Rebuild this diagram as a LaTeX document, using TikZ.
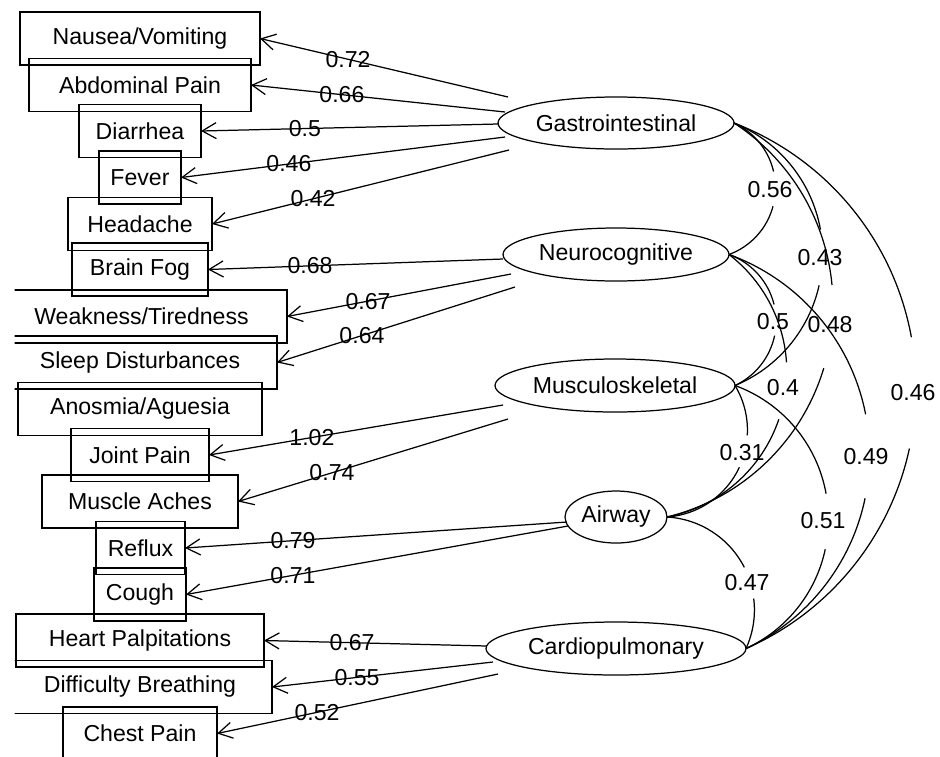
\documentclass[tikz,border=0pt]{standalone}
\usepackage{fontspec}
\setmainfont{Liberation Sans}
\usetikzlibrary{arrows.meta,shapes.geometric}
\newcommand\figfont{\fontsize{11.55}{13.8}\selectfont}
\begin{document}
\begin{tikzpicture}[x=0.5pt,y=-0.5pt,
  lw/.style={line width=0.62pt},
  obs/.style={draw, lw, rectangle, minimum height=26.5pt, inner sep=0pt, outer sep=0pt, font=\figfont},
  lat/.style={draw, lw, ellipse, inner sep=0pt, outer sep=0pt, minimum height=26.5pt, font=\figfont},
  load/.style={lw, -{Straight Barb[length=7pt,width=8pt]}},
  cov/.style={lw},
  lab/.style={inner sep=0pt, font=\figfont}]
\useasboundingbox (0,0) rectangle (940,756);

% observed variables (clipped like the original plot region)
\begin{scope}
\clip (14.5,0) rectangle (940,756);
\node[obs, minimum width=120pt]   (nau) at (140,38.5)  {Nausea/Vomiting};
\node[obs, minimum width=111pt]   (abd) at (140,85)    {Abdominal Pain};
\node[obs, minimum width=61pt]    (dia) at (140,131)   {Diarrhea};
\node[obs, minimum width=41pt]    (fev) at (140,177.5) {Fever};
\node[obs, minimum width=72pt]    (hed) at (140,224)   {Headache};
\node[obs, minimum width=68pt]    (bra) at (140,269.5) {Brain Fog};
\node[obs, minimum width=145.5pt] (wea) at (141.5,316.5) {Weakness/Tiredness};
\node[obs, minimum width=137pt]   (sle) at (140,362.5) {Sleep Disturbances};
\node[obs, minimum width=122pt]   (ano) at (140,409)   {Anosmia/Aguesia};
\node[obs, minimum width=69pt]    (joi) at (140,455)   {Joint Pain};
\node[obs, minimum width=98pt]    (mus) at (140,501.5) {Muscle Aches};
\node[obs, minimum width=44.5pt]  (ref) at (140.5,548) {Reflux};
\node[obs, minimum width=46pt]    (cou) at (140,594.5) {Cough};
\node[obs, minimum width=124pt]   (hrt) at (140,640.5) {Heart Palpitations};
\node[obs, minimum width=132pt]   (dif) at (140,687)   {Difficulty Breathing};
\node[obs, minimum width=77pt]    (che) at (140,733.5) {Chest Pain};
\end{scope}

% latent variables
\node[lat, minimum width=118pt, minimum height=26pt] (gi) at (616,123)   {Gastrointestinal};
\node[lat, minimum width=113pt] (ne) at (616,254.5) {Neurocognitive};
\node[lat, minimum width=120pt] (mu) at (615,385.5) {Musculoskeletal};
\node[lat, minimum width=51pt, minimum height=26pt]  (ai) at (616,517)   {Airway};
\node[lat, minimum width=130pt] (ca) at (616,648.5) {Cardiopulmonary};

% start points of the loading lines
\coordinate (gi1) at (508,97);
\coordinate (gi2) at (505,112);
\coordinate (gi3) at (498,124);
\coordinate (gi4) at (505,137);
\coordinate (gi5) at (509,150);
\coordinate (ne1) at (503,259);
\coordinate (ne2) at (511,274);
\coordinate (ne3) at (515,287);
\coordinate (mu1) at (503,405);
\coordinate (mu2) at (508,419);
\coordinate (ai1) at (567,522);
\coordinate (ai2) at (568,526);
\coordinate (ca1) at (487,646);
\coordinate (ca2) at (493,662);
\coordinate (ca3) at (498,674);

% loadings
\draw[load] (gi1) -- node[lab,pos=0.645]{0.72} (nau.east);
\draw[load] (gi2) -- node[lab,pos=0.642]{0.66} (abd.east);
\draw[load] (gi3) -- node[lab,pos=0.650]{0.5}  (dia.east);
\draw[load] (gi4) -- node[lab,pos=0.667]{0.46} (fev.east);
\draw[load] (gi5) -- node[lab,pos=0.660]{0.42} (hed.east);
\draw[load] (ne1) -- node[lab,pos=0.654]{0.68} (bra.east);
\draw[load] (ne2) -- node[lab,pos=0.638]{0.67} (wea.east);
\draw[load] (ne3) -- node[lab,pos=0.643]{0.64} (sle.east);
\draw[load] (mu1) -- node[lab,pos=0.650]{1.02} (joi.east);
\draw[load] (mu2) -- node[lab,pos=0.652]{0.74} (mus.east);
\draw[load] (ai1) -- node[lab,pos=0.717]{0.79} (ref.east);
\draw[load] (ai2) -- node[lab,pos=0.720]{0.71} (cou.east);
\draw[load] (ca1) -- node[lab,pos=0.605]{0.67} (hrt.east);
\draw[load] (ca2) -- node[lab,pos=0.615]{0.55} (dif.east);
\draw[load] (ca3) -- node[lab,pos=0.644]{0.52} (che.east);

% covariances (arcs broken at their labels)
\draw[cov] (gi.east) arc[start angle=65.4,  end angle=13,   radius=35.45pt];
\draw[cov] (ne.east) arc[start angle=-69.8, end angle=-15,  radius=35.45pt];
\node[lab] (c1) at (770,190) {0.56};

\draw[cov] (gi.east) arc[start angle=67.9,  end angle=10.2,  radius=71.1pt];
\draw[cov] (mu.east) arc[start angle=-67.4, end angle=-12.6, radius=71.1pt];
\node[lab] (c2) at (820,258) {0.43};

\draw[cov] (gi.east) arc[start angle=56.95, end angle=5.4,   radius=108.85pt];
\draw[cov] (ai.east) arc[start angle=-76.25,end angle=-16.7, radius=108.85pt];
\node[lab] (c3) at (830,325) {0.48};

\draw[cov] (gi.east) arc[start angle=68.95, end angle=10.3,  radius=141.97pt];
\draw[cov] (ca.east) arc[start angle=-66.3, end angle=-12.2, radius=141.97pt];
\node[lab] (c4) at (913,393) {0.46};

\draw[cov] (ne.east) arc[start angle=70.1,  end angle=14,    radius=35.75pt];
\draw[cov] (mu.east) arc[start angle=-64.9, end angle=-12,   radius=35.75pt];
\node[lab] (c5) at (773,322) {0.5};

\draw[cov] (ne.east) arc[start angle=52.4,  end angle=3.7,   radius=74.15pt];
\draw[cov] (ai.east) arc[start angle=-78.9, end angle=-18.8, radius=74.15pt];
\node[lab] (c6) at (783,388) {0.4};

\draw[cov] (ne.east) arc[start angle=70.05, end angle=11,    radius=106.65pt];
\draw[cov] (ca.east) arc[start angle=-65.1, end angle=-11.7, radius=106.65pt];
\node[lab] (c7) at (866,457) {0.49};

\draw[cov] (mu.east) arc[start angle=31.1,  end angle=-3.5,  radius=43.25pt];
\draw[cov] (ai.east) arc[start angle=-86,   end angle=-25,   radius=43.25pt];
\node[lab] (c8) at (742,453) {0.31};

\draw[cov] (mu.east) arc[start angle=70,    end angle=10.2,  radius=70.9pt];
\draw[cov] (ca.east) arc[start angle=-65.2, end angle=-12,   radius=70.9pt];
\node[lab] (c9) at (823,521) {0.51};

\draw[cov] (ai.east) arc[start angle=86.8,  end angle=27,    radius=46.3pt];
\draw[cov] (ca.east) arc[start angle=-24.6, end angle=7.1,   radius=46.3pt];
\node[lab] (c10) at (747,583) {0.47};
\end{tikzpicture}
\end{document}
